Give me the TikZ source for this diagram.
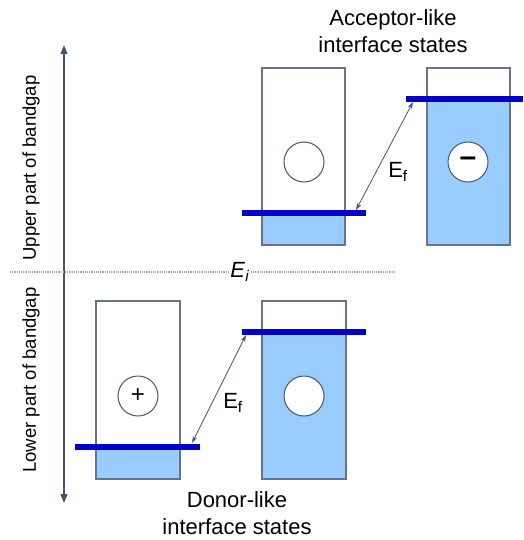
\documentclass[tikz,border=0pt]{standalone}
\usepackage{fontspec}
\setmainfont{Liberation Sans}
\usetikzlibrary{arrows.meta,positioning}
\definecolor{stateblue}{RGB}{153,204,255}
\definecolor{levelblue}{RGB}{0,0,200}
\definecolor{boxgray}{RGB}{105,115,135}
\definecolor{axisgray}{RGB}{70,85,110}

\begin{document}
\begin{tikzpicture}[
  x=1pt, y=-1pt,
  box/.style={draw=boxgray, line width=1.3pt},
  filled/.style={fill=stateblue},
  level/.style={draw=levelblue, line width=5.5pt},
  charge/.style={circle, draw=axisgray, fill=white, line width=1pt, minimum size=40pt, inner sep=0pt, font=\fontsize{24}{24}\selectfont},
  gap/.style={{Stealth[length=7pt,width=4.5pt]}-{Stealth[length=7pt,width=4.5pt]}, draw=axisgray, line width=0.8pt},
  lbl/.style={font=\fontsize{22}{27}\selectfont, align=center},
  side/.style={rotate=90, font=\fontsize{18.5}{18.5}\selectfont}
]
\useasboundingbox (0,0) rectangle (523,540);

% energy axis and intrinsic level
\draw[axisgray, line width=1.2pt, {Triangle[length=9pt,width=7pt]}-{Triangle[length=9pt,width=7pt]}] (64,45) -- (64,503);
\node[side] (upper) at (31,168) {Upper part of bandgap};
\node[side] (lower) at (31,380) {Lower part of bandgap};
\node[lbl, inner sep=1pt] (ei) at (240,272) {\textit{E}\textsubscript{\textit{i}}};
\coordinate (eil) at (10,272);
\coordinate (eir) at (395,272);
\draw[gray!70, densely dotted, line width=1.2pt] (eil) -- (ei.west |- eil);
\draw[gray!70, densely dotted, line width=1.2pt] (ei.east |- eir) -- (eir);

% donor-like states
\fill[filled] (96,447) rectangle (180,479);
\draw[box] (96,301) rectangle (180,479);
\fill[filled] (262,332) rectangle (346,479);
\draw[box] (262,301) rectangle (346,479);
\node[charge] (plus) at (138,396) {+};
\node[charge] (empty1) at (304,396) {};
\draw[level] (75,447) -- (200,447);
\draw[level] (242,332) -- (366,332);
\coordinate (dlow) at (192,443);
\coordinate (dhigh) at (246,335);
\draw[gap] (dlow) -- (dhigh);
\node[lbl] (efd) at (233,403) {E\textsubscript{f}};
\node[lbl] (donor) at (237,513) {Donor-like\\interface states};

% acceptor-like states
\fill[filled] (262,213) rectangle (345,245);
\draw[box] (262,68) rectangle (345,245);
\fill[filled] (427,99) rectangle (510,245);
\draw[box] (427,68) rectangle (510,245);
\node[charge] (empty2) at (304,162) {};
\node[charge, font=\fontsize{30}{30}\selectfont\bfseries] (minus) at (468,162) {\raisebox{1pt}{–}};
\draw[level] (242,213) -- (366,213);
\draw[level] (406,99) -- (523,99);
\coordinate (alow) at (356,210);
\coordinate (ahigh) at (413,102);
\draw[gap] (alow) -- (ahigh);
\node[lbl] (efa) at (398,172) {E\textsubscript{f}};
\node[lbl] (acceptor) at (393,31) {Acceptor-like\\interface states};
\end{tikzpicture}
\end{document}
